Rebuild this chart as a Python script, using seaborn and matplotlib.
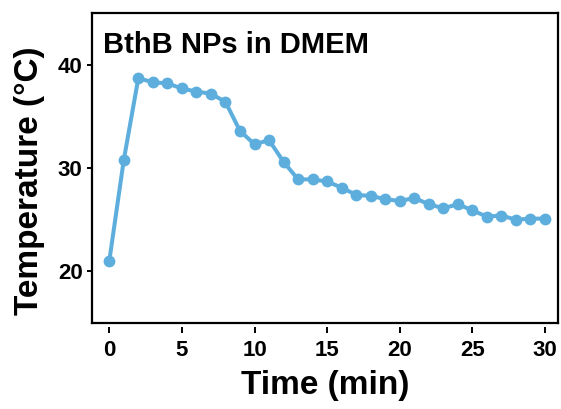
import matplotlib
matplotlib.use("Agg")
import matplotlib.pyplot as plt
import seaborn as sns
import pandas as pd

# Photothermal heating/cooling curve
time_min = list(range(0, 31))
temperature_c = [21.0, 30.8, 38.7, 38.3, 38.2, 37.7, 37.4, 37.2, 36.4, 33.6,
                 32.3, 32.7, 30.6, 28.9, 28.9, 28.7, 28.1, 27.4, 27.3, 27.0,
                 26.8, 27.1, 26.5, 26.1, 26.5, 25.9, 25.3, 25.4, 25.0, 25.1,
                 25.1]
x_ticks = [0, 5, 10, 15, 20, 25, 30]
y_ticks = [20, 30, 40]
title = "BthB NPs in DMEM"

df = pd.DataFrame({"Time": time_min, "Temp": temperature_c})

sns.set_theme(style="white")
plt.rcParams["font.family"] = ["Liberation Sans", "DejaVu Sans"]
plt.rcParams["font.weight"] = "bold"
plt.rcParams["text.color"] = "black"
plt.rcParams["axes.labelcolor"] = "black"
plt.rcParams["xtick.color"] = "black"
plt.rcParams["ytick.color"] = "black"

fig = plt.figure(figsize=(5.61, 4.09), dpi=100)
ax = fig.add_axes([0.164, 0.2103, 0.8307, 0.7577])

line_color = "#5DAEDD"
sns.lineplot(data=df, x="Time", y="Temp", ax=ax, color=line_color,
             linewidth=2.9, marker="o", markersize=8.5,
             markeredgewidth=0, markerfacecolor=line_color)

ax.set_xlim(-1.19, 30.9)
ax.set_ylim(15, 45)

for s in ax.spines.values():
    s.set_color("black")
    s.set_linewidth(1.6)

ax.set_yticks(y_ticks)
ax.set_yticklabels([str(v) for v in y_ticks], fontsize=16, fontweight="bold",
                   color="black")
ax.tick_params(axis="y", direction="out", length=3.8, width=1.4,
               color="black", pad=3, left=True)
ax.tick_params(axis="x", bottom=False, labelbottom=False)
ax.set_xlabel("")
ax.set_ylabel("Temperature (°C)", fontsize=24, fontweight="bold",
              color="black")
ax.yaxis.set_label_coords(-0.1, 0.46)

# detached x axis with ticks set slightly below the frame
sec = ax.secondary_xaxis(location=-0.013)
sec.spines["bottom"].set_visible(False)
sec.set_xticks(x_ticks)
sec.set_xticklabels([str(v) for v in x_ticks], fontsize=16, fontweight="bold",
                    color="black")
sec.tick_params(axis="x", direction="out", length=4.5, width=1.4,
                color="black", pad=5)
sec.set_xlabel("Time (min)", fontsize=24, fontweight="bold", labelpad=6,
               color="black")

ax.text(0.024, 0.871, title, transform=ax.transAxes, fontsize=21,
        fontweight="bold", ha="left", va="baseline", color="black")

fig.savefig("out.png", dpi=100)
